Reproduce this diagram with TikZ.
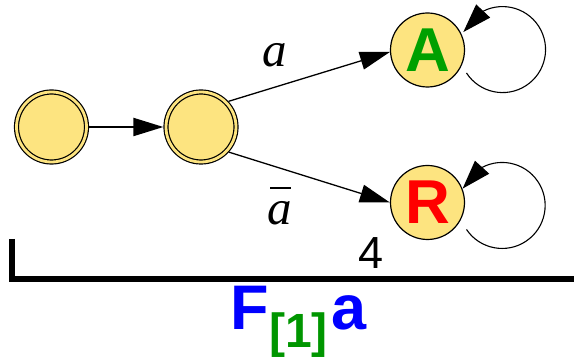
\documentclass[tikz,border=0pt]{standalone}
\usepackage{fontspec}
\setmainfont{Liberation Serif}
\newfontfamily\arial{Liberation Sans}
\usetikzlibrary{arrows.meta,bending}
\definecolor{stfill}{RGB}{253,228,128}
\definecolor{accgreen}{RGB}{0,160,0}
\definecolor{subgreen}{RGB}{0,150,0}
\begin{document}
\begin{tikzpicture}[x=1pt,y=1pt,
  state/.style={circle,draw=black,line width=1.2pt,fill=stfill,minimum size=74pt,inner sep=0pt},
  dstate/.style={state,minimum size=70pt,double=stfill,double distance=2.8pt,outer sep=2.6pt},
  trans/.style={line width=1.3pt,-{Triangle[length=30pt,width=18pt]}},
  loopline/.style={line width=1.1pt,-{Triangle[length=29pt,width=19pt]}},
  statetext/.style={font=\arial\bfseries\fontsize{62}{66}\selectfont},
  lbl/.style={anchor=base,inner sep=0pt,font=\fontsize{49}{50}\selectfont\itshape}
]
\useasboundingbox (0,0) rectangle (574,359);
\node[dstate] (n1) at (51.5,232) {};
\node[dstate] (n2) at (201,232) {};
\node[state,statetext,text=accgreen] (A) at (427.5,309) {A};
\node[state,statetext,text=red] (R) at (427.5,156.5) {R};
\draw[trans,line width=2pt] (n1) -- (n2);
\draw[trans] (n2.43) -- (A.183);
\draw[trans] (n2.-42) -- (R.180);
\draw[loopline] ([shift={(39pt,-23pt)}]A.center) arc[start angle=213, end angle=516, radius=43pt];
\draw[loopline] ([shift={(39pt,-27pt)}]R.center) arc[start angle=214, end angle=517, radius=43pt];
\node[lbl] (la) at (275,292) {a};
\node[lbl] (lna) at (280,134) {a\llap{\rule[36pt]{21pt}{1.8pt}\kern1pt}};
\draw[line width=6pt,line join=miter] (12,120) |- (574,80);
\node[anchor=base,inner sep=0pt,font=\arial\fontsize{45}{50}\selectfont] (four) at (371.5,90) {4};
\node[anchor=base west,inner sep=0pt,font=\arial\bfseries\fontsize{63}{70}\selectfont,text=blue] (name) at (230.5,29)
  {F\raisebox{-17.5pt}{\fontsize{48}{50}\selectfont\color{subgreen}[1]}\kern4pt a};
\end{tikzpicture}
\end{document}
